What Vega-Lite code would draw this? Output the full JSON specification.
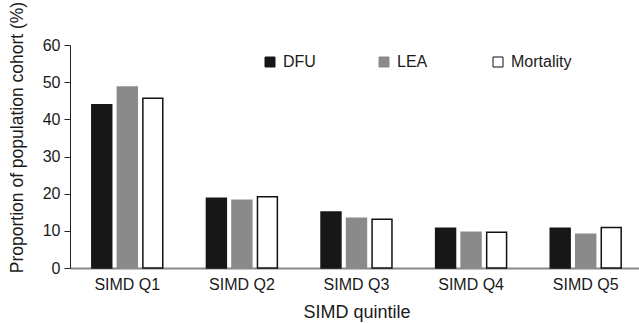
{
  "$schema": "https://vega.github.io/schema/vega-lite/v6.json",
  "width": 569,
  "height": 223,
  "autosize": {"type": "none"},
  "padding": {"left": 70, "top": 45, "right": 0, "bottom": 55},
  "background": "white",
  "data": {"values": [
    {"quintile": "SIMD Q1", "measure": "DFU", "value": 43.9},
    {"quintile": "SIMD Q1", "measure": "LEA", "value": 48.7},
    {"quintile": "SIMD Q1", "measure": "Mortality", "value": 45.7},
    {"quintile": "SIMD Q2", "measure": "DFU", "value": 18.8},
    {"quintile": "SIMD Q2", "measure": "LEA", "value": 18.2},
    {"quintile": "SIMD Q2", "measure": "Mortality", "value": 19.2},
    {"quintile": "SIMD Q3", "measure": "DFU", "value": 15.1},
    {"quintile": "SIMD Q3", "measure": "LEA", "value": 13.4},
    {"quintile": "SIMD Q3", "measure": "Mortality", "value": 13.1},
    {"quintile": "SIMD Q4", "measure": "DFU", "value": 10.7},
    {"quintile": "SIMD Q4", "measure": "LEA", "value": 9.6},
    {"quintile": "SIMD Q4", "measure": "Mortality", "value": 9.6},
    {"quintile": "SIMD Q5", "measure": "DFU", "value": 10.7},
    {"quintile": "SIMD Q5", "measure": "LEA", "value": 9.1},
    {"quintile": "SIMD Q5", "measure": "Mortality", "value": 10.9}
  ]},
  "mark": {"type": "bar", "strokeWidth": 1.5},
  "encoding": {
    "x": {
      "field": "quintile", "type": "nominal", "sort": null,
      "scale": {"range": [0, 573], "paddingInner": 0.332, "paddingOuter": 0.166},
      "axis": {
        "title": "SIMD quintile", "labelAngle": 0, "ticks": false,
        "domainColor": "#888888", "domainWidth": 2,
        "labelFontSize": 16, "labelPadding": 8, "labelColor": "#1a1a1a",
        "titleFontSize": 18, "titleFontWeight": "normal", "titleColor": "#1a1a1a", "titlePadding": 11
      }
    },
    "xOffset": {
      "field": "measure", "type": "nominal", "sort": ["DFU", "LEA", "Mortality"],
      "scale": {"paddingInner": 0.22, "paddingOuter": 0.11}
    },
    "y": {
      "field": "value", "type": "quantitative",
      "scale": {"domain": [0, 60], "nice": false},
      "axis": {
        "title": "Proportion of population cohort (%)", "values": [0, 10, 20, 30, 40, 50, 60],
        "grid": false, "tickSize": 6, "tickColor": "#222222", "domainColor": "#222222",
        "labelFontSize": 16, "labelPadding": 4, "labelColor": "#1a1a1a",
        "titleFontSize": 17.5, "titleFontWeight": "normal", "titleColor": "#1a1a1a",
        "titleAnchor": "middle", "titleY": 92, "titleX": -44, "titleBaseline": "bottom"
      }
    },
    "fill": {
      "field": "measure", "type": "nominal", "sort": ["DFU", "LEA", "Mortality"],
      "scale": {"domain": ["DFU", "LEA", "Mortality"], "range": ["#171717", "#8a8a8a", "#ffffff"]},
      "legend": {"title": null}
    },
    "stroke": {
      "field": "measure", "type": "nominal", "sort": ["DFU", "LEA", "Mortality"],
      "scale": {"domain": ["DFU", "LEA", "Mortality"], "range": ["#171717", "#8a8a8a", "#111111"]},
      "legend": {"title": null}
    }
  },
  "config": {
    "font": "Liberation Sans",
    "view": {"stroke": null},
    "legend": {
      "orient": "none", "legendX": 192, "legendY": 9, "direction": "horizontal",
      "columns": 3, "gridAlign": "all", "columnPadding": 32,
      "symbolType": "square", "symbolSize": 100, "symbolStrokeWidth": 1,
      "labelFontSize": 16, "labelOffset": 5, "labelColor": "#1a1a1a"
    }
  }
}
